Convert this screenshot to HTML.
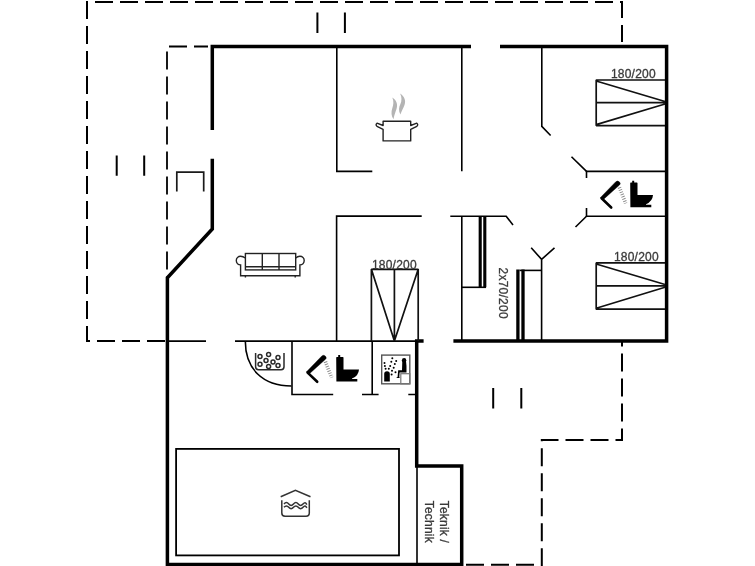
<!DOCTYPE html>
<html><head><meta charset="utf-8">
<style>
html,body{margin:0;padding:0;background:#fff;width:755px;height:566px;overflow:hidden}
svg{display:block;will-change:transform}
text{font-family:"Liberation Sans",sans-serif;fill:#3a3a3a;stroke:#3a3a3a;stroke-width:0.3px;letter-spacing:0.2px}
</style></head>
<body>
<svg width="755" height="566" viewBox="0 0 755 566">
<rect width="755" height="566" fill="#fff"/>
<!-- dashed outlines -->
<g fill="none" stroke="#000" stroke-width="2" stroke-dasharray="18 7">
  <path d="M622,42 V2 H87 V341 H167" stroke-dashoffset="1"/>
  <path d="M208,46.5 H167 V278" stroke-width="1.8" stroke-dashoffset="4"/>
  <path d="M622,341 V440 H541.8 V566" stroke-dashoffset="12.5"/>
  <path d="M466,564.8 H542"/>
</g>
<!-- entry marks -->
<g stroke="#000" stroke-width="2">
  <path d="M317.4,12.6 V33.1 M344.9,12.6 V33.1"/>
  <path d="M116.7,155.6 V175.7 M144.2,155.6 V175.7"/>
  <path d="M493.2,388 V408.4 M521.3,388 V408.4"/>
</g>
<!-- thick walls -->
<g fill="none" stroke="#000" stroke-width="3.5" stroke-linejoin="miter" stroke-linecap="butt">
  <path d="M212.3,130.1 V46.6 H471"/>
  <path d="M500,46.6 H666.6 V341 H453.4"/>
  <path d="M212.3,158.8 V229 L167.4,277.7 V564.6 H461.7 V466 H416.7 V341 H423.6"/>
</g>
<!-- thin walls -->
<g fill="none" stroke="#000" stroke-width="1.6">
  <path d="M336.8,46.6 V171.4 H372.3"/>
  <path d="M461.8,46.6 V171.3"/>
  <path d="M421.7,216.1 H336.6 V341"/>
  <path d="M167.4,341.1 H206"/>
  <path d="M235,341.1 H416.7"/>
  <path d="M450.3,216.2 H506.2 L513,225"/>
  <path d="M461.8,216.2 V341"/>
  <path d="M461.8,287.3 H486"/>
  <path d="M541.6,259.4 V341 M531.2,247.8 L541.6,259.4 L554.5,247.8"/>
  <path d="M519.5,270.4 H541.6"/>
  <path d="M541.8,46.6 V126.4 L550.6,135.5"/>
  <path d="M666,171.4 H586.5 V178 M586.5,208 V216.3 H666"/>
  <path d="M586.5,171.4 L571.5,156.8 M586.5,216.3 L575.5,227"/>
  <path d="M292,341 V394.5 H333.2 M362,394.5 H378.6 M372.2,341 V394.5 M408.3,394.5 H416.7"/>
  <path d="M245.3,341.1 C245.3,369.1 262.8,386 291.4,386"/>
  <path d="M417,466 V564.6"/>
</g>
<g fill="none" stroke="#000" stroke-width="3">
  <path d="M480.2,217 V287.3 M484.8,217 V287.3" stroke-width="3.1"/>
  <path d="M517.9,269.6 V341 M523,269.6 V341" stroke-width="3.3"/>
</g>
<!-- beds -->
<g fill="none" stroke="#111" stroke-width="1.7" stroke-linejoin="bevel">
  <path d="M665,80 H596.2 V125.6 H665 M596.2,102.7 H665 M596.2,81 L665,101.5 M596.2,124.6 L665,104"/>
  <path d="M665,262.9 H596.2 V309.2 H665 M596.2,285.9 H665 M596.2,264 L665,284.5 M596.2,308.2 L665,287.3"/>
  <path d="M371.4,341 V269.3 H418.2 V341 M394.4,269.3 V341 M371.4,269.3 L394.4,341 L418.2,269.3"/>
</g>
<text x="611" y="77.6" font-size="12">180/200</text>
<text x="614" y="260.5" font-size="12">180/200</text>
<text x="372" y="268.8" font-size="12">180/200</text>
<text transform="translate(499,267.5) rotate(90)" font-size="12" style="letter-spacing:0.25px">2x70/200</text>
<text transform="translate(440,500.8) rotate(90)" font-size="12">Teknik /</text>
<text transform="translate(425,500.8) rotate(90)" font-size="12">Technik</text>
<!-- pool -->
<rect x="176.1" y="448.9" width="222.9" height="106.5" fill="none" stroke="#000" stroke-width="1.8"/>
<g fill="none" stroke="#333" stroke-width="1.5">
  <path d="M280.7,496.7 L295.4,490.3 L310.5,496.7"/>
  <path d="M281.8,500.3 V513 Q281.8,516.2 285,516.2 H306 Q309.3,516.2 309.3,513 V500.3"/>
  <path d="M284,504 Q286.4,501.2 288.75,504 T293.5,504 T298.25,504 T303,504 T306.8,504.6"/>
  <path d="M284,507.3 Q286.4,504.5 288.75,507.3 T293.5,507.3 T298.25,507.3 T303,507.3 T306.8,507.9"/>
</g>
<!-- sofa -->
<g fill="none" stroke="#222" stroke-width="1.4">
  <rect x="245.4" y="253.5" width="50.3" height="16.4"/>
  <path d="M262.3,253.5 V269.9 M279,253.5 V269.9 M245.4,266.7 H295.7"/>
  <path d="M245.4,258 Q243,256.3 240.6,256.3 A4.3,4.3 0 0 0 240.6,264.9 V275.7 H299.9 V264.9 A4.3,4.3 0 0 0 299.9,256.3 Q297.5,256.3 295.7,258"/>
  <path d="M245.4,275.7 V277.5 M295.2,275.7 V277.5"/>
</g>
<!-- pot -->
<path d="M383.1,121.3 V125.5 L377,123.2 Q375.2,124.6 377,126.3 L383.1,129.3 V140.9 H410.7 V129.3 L416.8,126.3 Q418.6,124.6 416.8,123.2 L410.7,125.5 V121.3 Z" fill="none" stroke="#222" stroke-width="1.4" stroke-linejoin="round"/>
<g fill="#b4b4b4">
  <path d="M392.3,97.6 C396,100 398.3,104 396.5,109 C395.5,112 394.2,115 393.5,119.3 C391.2,116 391,112 392.3,108.3 C393.5,105 394,101 392.3,97.6 Z"/>
  <path d="M400.1,93.4 C404,96 406.3,100 404.5,105 C403.5,108 401.6,111 400.4,114.4 C398.4,111 398.8,107 400.4,104 C401.8,101 402,97 400.1,93.4 Z"/>
</g>
<!-- shower + toilet icon (bath 1) -->
<g id="wc">
  <path d="M306.3,372 L321.6,356.2 Q323.6,354.4 325.5,356.3 Q327.2,358.3 325.2,359.6 L309.7,373.5 Z" fill="#000" stroke="#000" stroke-width="0.4" stroke-linejoin="round"/>
  <path d="M307.6,372.6 L317.2,381.8" fill="none" stroke="#000" stroke-width="2.6" stroke-linecap="round"/>
  <path d="M325.4,361.6 L331.6,377.6" stroke="#888" stroke-width="3.6" stroke-dasharray="1 1.4" fill="none"/>
  <path d="M336.2,357.6 Q336.2,356.9 336.9,356.9 H338.2 V355 H340.2 V356.9 H342.8 Q343.5,356.9 343.5,357.6 V369.4 H359 Q358.6,375.8 352,378.6 V379 H357.3 V381.5 H336.4 Z" fill="#000"/>
</g>
<use href="#wc" transform="translate(294,-174.3)"/>
<!-- spa -->
<g fill="none" stroke="#2a2a2a" stroke-width="1.5">
  <path d="M255.6,353 V366.8 Q255.6,369.7 258.5,369.7 H281.1 Q284,369.7 284,366.8 V353"/>
  <circle cx="260" cy="356.5" r="2"/><circle cx="268.6" cy="354.5" r="2"/><circle cx="278" cy="357.5" r="2"/>
  <circle cx="266" cy="360.5" r="2"/><circle cx="273" cy="362" r="2"/>
  <circle cx="260" cy="364.3" r="2"/><circle cx="268.6" cy="366.5" r="2"/><circle cx="278" cy="365.5" r="2"/>
</g>
<!-- sauna -->
<g>
  <rect x="381.7" y="355.1" width="28.1" height="28.7" fill="none" stroke="#555" stroke-width="1.4"/>
  <rect x="400.8" y="373.7" width="9" height="10.1" fill="none" stroke="#777" stroke-width="1.2"/>
  <path d="M384.2,381.4 V374 Q384.2,371.2 387,371.2 Q389.8,371.2 389.8,374 V381.4 Z" fill="#000"/>
  <circle cx="404.1" cy="360.2" r="2.2" fill="#000"/>
  <path d="M402.3,361 H406 Q406.8,366 406.5,372.6 H399.6 L399.3,376.9 L399.8,377.9 H396 L397.6,376.9 L398.2,370.3 H402 Z" fill="#000"/>
  <g fill="#000"><circle cx="392.3" cy="358.3" r="1"/><circle cx="396.2" cy="361.0" r="1"/><circle cx="391.3" cy="361.7" r="1"/><circle cx="384.5" cy="363.1" r="1"/><circle cx="394.8" cy="364.1" r="1"/><circle cx="384.9" cy="365.9" r="1"/><circle cx="390.2" cy="365.9" r="1"/><circle cx="393.7" cy="367.7" r="1"/><circle cx="385.6" cy="368.7" r="1"/><circle cx="388.8" cy="368.7" r="1"/><circle cx="392.0" cy="370.8" r="1"/><circle cx="395.5" cy="372.3" r="1"/><circle cx="391.6" cy="374.4" r="1"/></g>
</g>
<!-- door symbol left -->
<path d="M176.8,191.6 V172.2 H203.7 V191.6" fill="none" stroke="#1a1a1a" stroke-width="1.7"/>
</svg>
</body></html>
